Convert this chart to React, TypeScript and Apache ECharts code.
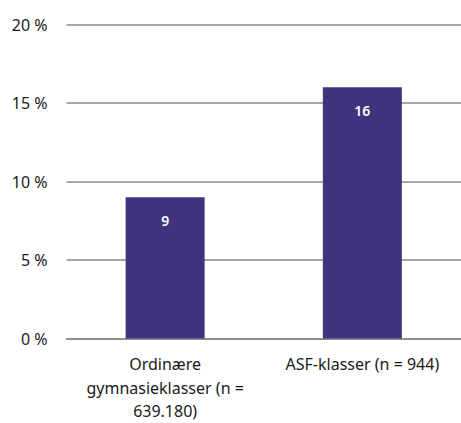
import React, { useEffect, useRef } from "react";
import * as echarts from "echarts";

const categories = ["Ordinære\ngymnasieklasser (n =\n639.180)", "ASF-klasser (n = 944)"];
const values = [9, 16];
const yMin = 0;
const yMax = 20;
const yInterval = 5;

export default function App() {
  const ref = useRef<HTMLDivElement>(null);
  useEffect(() => {
    document.body.style.margin = "0";
    const chart = echarts.init(ref.current!, null, { renderer: "svg" });
    const font = "Noto Sans";
    chart.setOption({
      animation: false,
      grid: { left: 66.5, right: -4, top: 24.5, bottom: 76 },
      xAxis: {
        type: "category",
        data: categories,
        axisTick: { show: false },
        axisLine: { lineStyle: { color: "#888", width: 1.5 } },
        axisLabel: {
          color: "#1a1a1a",
          fontFamily: font,
          fontSize: 16,
          lineHeight: 23.5,
          margin: 14,
          interval: 0,
        },
      },
      yAxis: {
        type: "value",
        min: yMin,
        max: yMax,
        interval: yInterval,
        axisLine: { show: false },
        axisTick: { show: false },
        splitLine: { lineStyle: { color: "#888", width: 1.5 } },
        axisLabel: {
          color: "#1a1a1a",
          fontFamily: font,
          fontSize: 16,
          margin: 19,
          formatter: (v: number) => `${v} %`,
        },
      },
      series: [
        {
          type: "bar",
          data: values,
          barWidth: 79,
          itemStyle: { color: "#40347f" },
          label: {
            show: true,
            position: "insideTop",
            distance: 16,
            color: "#fff",
            fontFamily: font,
            fontSize: 14,
            fontWeight: 600,
          },
        },
      ],
    });
    return () => chart.dispose();
  }, []);
  return <div ref={ref} style={{ width: 461, height: 423 }} />;
}
